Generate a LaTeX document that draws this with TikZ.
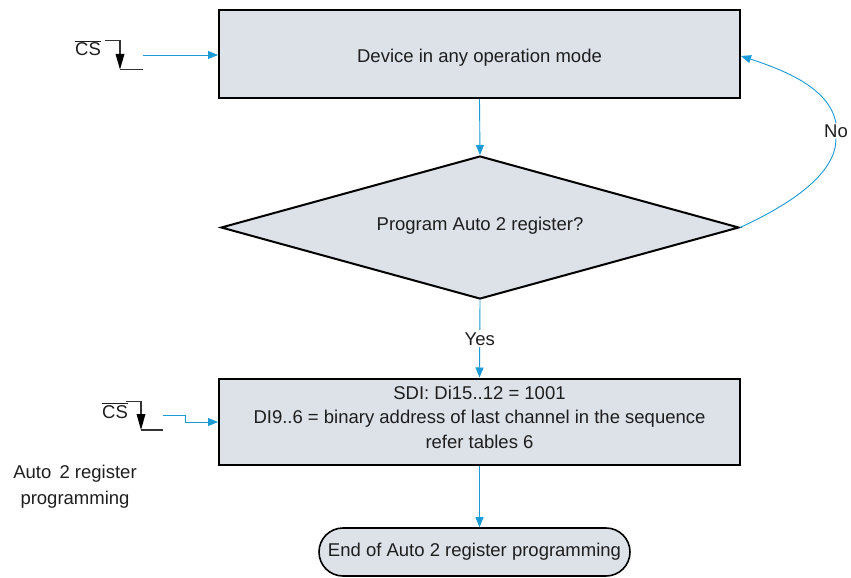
\documentclass[tikz,border=0pt]{standalone}
\usepackage{fontspec}
\setmainfont{Liberation Sans}
\usetikzlibrary{shapes.geometric,arrows.meta}
\definecolor{boxfill}{HTML}{DDE1E8}
\definecolor{flowblue}{HTML}{1B9AD6}
\definecolor{txt}{HTML}{1E1E1E}
\tikzset{
  procbox/.style={draw=black, line width=2pt, fill=boxfill, text=txt, inner sep=0pt},
  decision/.style={diamond, draw=black, line width=2pt, fill=boxfill, text=txt, inner sep=0pt, aspect=3.62},
  terminal/.style={draw=black, line width=1.6pt, fill=boxfill, text=txt, rounded corners=24pt, inner sep=0pt},
  flow/.style={draw=flowblue, line width=0.9pt, -{Triangle[length=10pt,width=8pt]}},
  wave/.style={draw=black!80, line width=1.2pt},
  wavetip/.style={fill=black},
  lbl/.style={text=txt, font=\fontsize{18.5}{26}\selectfont},
}
\begin{document}
\begin{tikzpicture}[x=1pt,y=-1pt, font=\fontsize{18.5}{22}\selectfont]
\useasboundingbox (0,0) rectangle (851,578);
% nodes
\node[procbox, minimum width=521pt, minimum height=88pt] (dev) at (479.5,54) {\raisebox{-8.5pt}[0pt][0pt]{Device in any operation mode}};
\node[decision, minimum width=518pt, minimum height=143pt] (dec) at (480,227.5) {\raisebox{-3pt}[0pt][0pt]{Program Auto 2 register?}};
\node[procbox, minimum width=521pt, minimum height=86pt] (sdi) at (479.5,421.5) {};
\node[lbl, align=center, font=\fontsize{18.5}{24.5}\selectfont] (sditext) at (479.5,417)
  {SDI: Di15..12 = 1001\\DI9..6 = binary address of last channel in the sequence\\refer tables 6};
\node[terminal, minimum width=311pt, minimum height=48pt] (end) at (474.5,552) {End of Auto 2 register programming};
\node[lbl, align=center] (side) at (75,487) {Auto\, 2 register\\programming};

% CS waveform 1
\node[lbl, anchor=base] (cs1) at (88,56) {$\overline{\mbox{CS}}$};
\draw[wave] (105,40.5) -- (120,40.5) -- (120,55);
\draw[wave] (120,69.5) -- (143,69.5);
\fill[wavetip] (115.5,54) -- (124.5,54) -- (120,69.5) -- cycle;
\coordinate (cs1out) at (143,55);
\draw[flow] (cs1out) -- (dev.west |- cs1out);

% CS waveform 2
\node[lbl, anchor=base] (cs2) at (115,418) {$\overline{\mbox{CS}}$};
\draw[wave] (126,401.5) -- (141,401.5) -- (141,415);
\draw[wave] (141,430) -- (163,430);
\fill[wavetip] (136.5,414) -- (145.5,414) -- (141,430) -- cycle;
\coordinate (cs2out) at (163,415);
\draw[flow] (cs2out) -- (185,415) -- (185,422) -- (sdi.west |- 0,422);

% main flow
\draw[flow] (dev.south) -- (dec.north);
\draw[flow] (dec.south) -- node[midway, fill=white, text=txt, inner sep=2pt] (yes) {Yes} (sdi.north);
\draw[flow] (sdi.south) -- (end.north -| sdi.south);

% No loop
\coordinate (nopt) at (836,131);
\node[lbl, fill=white, inner sep=1pt] (no) at (nopt) {No};
\draw[draw=flowblue, line width=0.9pt] (dec.east) .. controls (800,200) and (836,170) .. (no.south);
\draw[flow] (no.north) .. controls (830,90) and (790,72) .. (dev.east |- 0,56);
\end{tikzpicture}
\end{document}
